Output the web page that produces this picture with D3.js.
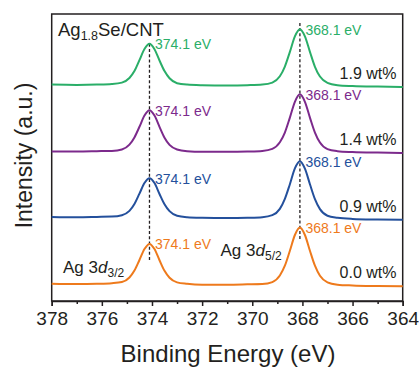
<!DOCTYPE html>
<html>
<head>
<meta charset="utf-8">
<script src="https://cdn.jsdelivr.net/npm/d3@7.8.5/dist/d3.min.js"></script>
<style>
  html, body { margin: 0; padding: 0; background: #fff; }
  svg { display: block; font-family: Arial, "Liberation Sans", Helvetica, sans-serif; }
</style>
</head>
<body>
<svg id="chart" width="419" height="367"></svg>
<script>
// binding energy grid (eV), shared by all spectra
const energy = [378, 377, 376.2, 375.6, 375.2, 374.9, 374.7, 374.5, 374.3, 374.1,
  373.9, 373.7, 373.5, 373.3, 373.0, 372.6, 372.0, 371.0, 370.2, 369.6,
  369.2, 368.9, 368.7, 368.5, 368.3, 368.1, 367.9, 367.7, 367.5, 367.3,
  367.0, 366.6, 366.0, 365.0, 364.0];

// stacked intensities (a.u.)
const wt00 = [6.0, 5.9, 6.0, 6.2, 6.6, 8.2, 10.6, 14.3, 18.1, 19.9,
  18.1, 14.2, 10.5, 8.1, 6.5, 6.0, 5.7, 5.7, 5.8, 5.9,
  6.6, 8.9, 12.3, 17.5, 23.0, 25.6, 23.0, 17.5, 12.3, 8.8,
  6.5, 5.7, 5.4, 5.2, 5.1];
const wt09 = [29.3, 29.2, 29.3, 29.4, 29.9, 31.4, 33.8, 37.4, 41.1, 42.8,
  41.1, 37.3, 33.7, 31.3, 29.7, 29.2, 29.0, 28.9, 29.0, 29.2,
  29.9, 32.1, 35.6, 40.7, 46.2, 48.7, 46.1, 40.7, 35.5, 32.0,
  29.7, 29.0, 28.6, 28.4, 28.3];
const wt14 = [52.1, 52.1, 52.2, 52.3, 52.8, 54.5, 57.0, 60.7, 64.6, 66.5,
  64.6, 60.7, 56.9, 54.4, 52.8, 52.2, 52.0, 52.0, 52.1, 52.3,
  53.0, 55.3, 58.7, 63.9, 69.4, 72.0, 69.4, 63.9, 58.7, 55.2,
  52.9, 52.2, 51.9, 51.7, 51.6];
const wt19 = [75.4, 75.3, 75.4, 75.6, 76.1, 77.7, 80.1, 83.9, 87.8, 89.6,
  87.7, 83.8, 80.1, 77.6, 75.9, 75.4, 75.2, 75.1, 75.2, 75.4,
  76.1, 78.3, 81.7, 86.8, 92.2, 94.7, 92.2, 86.8, 81.6, 78.2,
  76.0, 75.2, 74.9, 74.7, 74.6];

const seriesNames = ["0.0 wt%", "0.9 wt%", "1.4 wt%", "1.9 wt%"];
const seriesColors = ["#ee7a1c", "#24509c", "#7c2a8c", "#2aae68"];
const seriesData = [wt00, wt09, wt14, wt19];

const peakPositions = [374.1, 368.1];
const peakLabels = ["374.1 eV", "368.1 eV"];
// dashed guides: [energy, top intensity, bottom intensity]
const guideLines = [[374.1, 89.6, 13.6], [368.1, 96.9, 21.3]];

const xTicks = [378, 376, 374, 372, 370, 368, 366, 364];
const xMinorTicks = [377, 375, 373, 371, 369, 367, 365];

const svg = d3.select("#chart");
const margin = { left: 51.7, right: 16.3, top: 14, bottom: 66 };
const W = 419, H = 367;

const x = d3.scaleLinear().domain([378, 364]).range([margin.left, W - margin.right]);
const y = d3.scaleLinear().domain([0, 100]).range([H - margin.bottom, margin.top]);

const ink = "#231f20";

// frame
svg.append("rect")
  .attr("x", margin.left).attr("y", margin.top)
  .attr("width", W - margin.right - margin.left)
  .attr("height", H - margin.bottom - margin.top)
  .attr("fill", "none").attr("stroke", ink).attr("stroke-width", 1.5);

// x axis
const xAxis = svg.append("g")
  .attr("transform", `translate(0,${H - margin.bottom})`)
  .call(d3.axisBottom(x).tickValues(xTicks).tickSize(5).tickPadding(6).tickFormat(d3.format("d")));
xAxis.select(".domain").attr("stroke", ink).attr("stroke-width", 1.5);
xAxis.selectAll(".tick line").attr("stroke", ink).attr("stroke-width", 1.5);
xAxis.selectAll(".tick text")
  .attr("fill", ink)
  .style("font-size", "19px")
  .style("font-family", "Arial, 'Liberation Sans', sans-serif");

svg.append("g")
  .attr("transform", `translate(0,${H - margin.bottom})`)
  .call(d3.axisBottom(x).tickValues(xMinorTicks).tickSize(3).tickFormat(""))
  .call(g => g.select(".domain").remove())
  .selectAll(".tick line").attr("stroke", ink).attr("stroke-width", 1.5);

// dashed guides
svg.append("g").selectAll("line")
  .data(guideLines)
  .join("line")
  .attr("x1", d => x(d[0])).attr("x2", d => x(d[0]))
  .attr("y1", d => y(d[1])).attr("y2", d => y(d[2]))
  .attr("stroke", ink).attr("stroke-width", 1.3)
  .attr("stroke-dasharray", "3,2.2");

// spectra
const line = d3.line()
  .x((d, i) => x(energy[i]))
  .y(d => y(d))
  .curve(d3.curveMonotoneX);

svg.append("g").selectAll("path")
  .data(seriesData)
  .join("path")
  .attr("d", line)
  .attr("fill", "none")
  .attr("stroke", (d, i) => seriesColors[i])
  .attr("stroke-width", 2);

// peak position labels
seriesData.forEach((vals, si) => {
  peakPositions.forEach((p, pi) => {
    const v = vals[energy.indexOf(p)];
    svg.append("text")
      .attr("x", x(p) + 5.5)
      .attr("y", y(v) + 5.5)
      .attr("fill", seriesColors[si])
      .style("font-size", "14px")
      .text(peakLabels[pi]);
  });
});

// loading labels
seriesData.forEach((vals, si) => {
  svg.append("text")
    .attr("x", 396.5)
    .attr("y", y(vals[vals.length - 1]) + 0)
    .attr("dy", -8)
    .attr("text-anchor", "end")
    .attr("fill", ink)
    .style("font-size", "16px")
    .text(seriesNames[si]);
});

// sample name
const title = svg.append("text").attr("x", 58).attr("y", 35.5).attr("fill", ink).style("font-size", "18.5px");
title.append("tspan").text("Ag");
title.append("tspan").attr("dy", 4).style("font-size", "12.5px").text("1.8");
title.append("tspan").attr("dy", -4).text("Se/CNT");

// orbital labels
function orbital(xp, yp, sub) {
  const t = svg.append("text").attr("x", xp).attr("y", yp).attr("fill", ink).style("font-size", "17px");
  t.append("tspan").text("Ag 3");
  t.append("tspan").style("font-style", "italic").text("d");
  t.append("tspan").attr("dy", 4).style("font-size", "12px").text(sub);
}
orbital(63, 272.7, "3/2");
orbital(220.5, 256, "5/2");

// axis titles
svg.append("text")
  .attr("x", 228)
  .attr("y", 362)
  .attr("text-anchor", "middle")
  .attr("fill", ink)
  .style("font-size", "24px")
  .text("Binding Energy (eV)");

svg.append("text")
  .attr("transform", `translate(32,${(margin.top + H - margin.bottom) / 2 - 2}) rotate(-90)`)
  .attr("text-anchor", "middle")
  .attr("fill", ink)
  .style("font-size", "23px")
  .text("Intensity (a.u.)");
</script>
</body>
</html>
